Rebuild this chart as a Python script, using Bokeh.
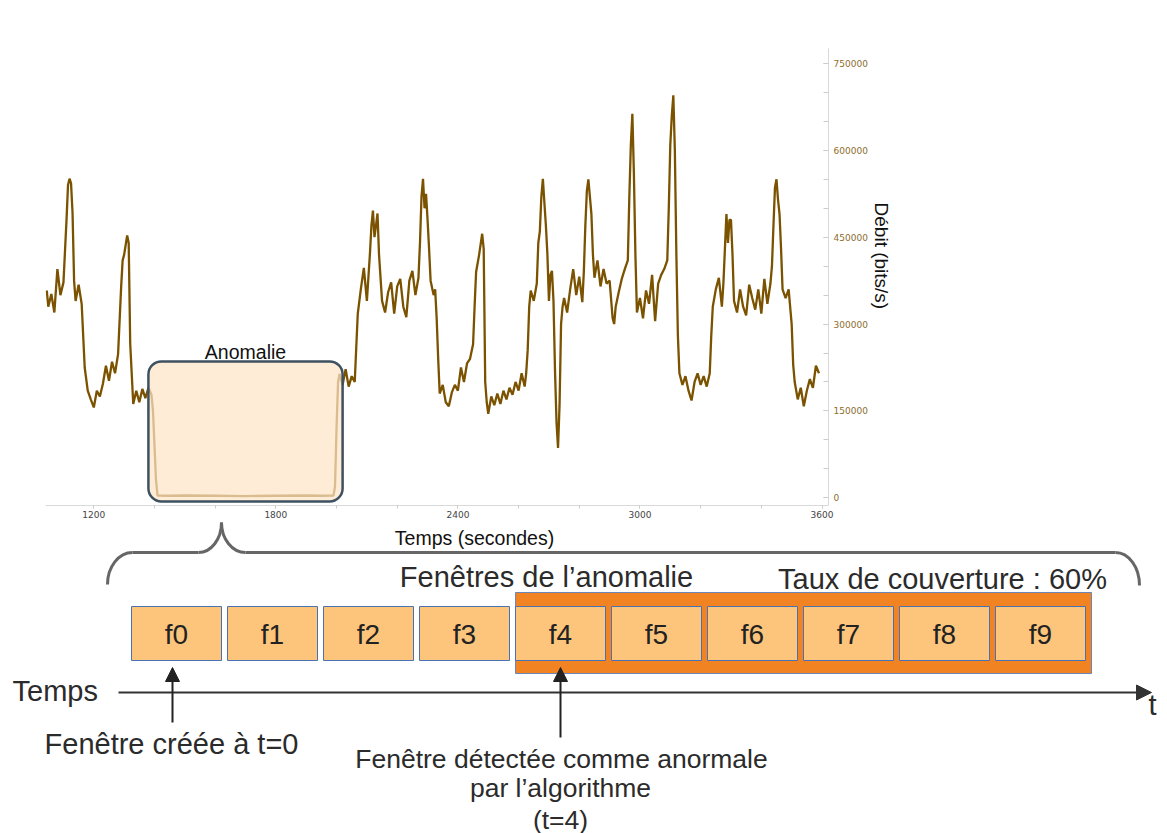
import math
from bokeh.plotting import figure
from bokeh.models import (Range1d, SingleIntervalTicker, BasicTickFormatter,
                          BoxAnnotation, Arrow, NormalHead)
from bokeh.layouts import column
from bokeh.embed import file_html
from bokeh.resources import INLINE
from bokeh.core.properties import value

# ---------------- data ----------------
temps_s = [
    1045, 1050, 1060, 1070, 1080, 1090, 1100, 1110, 1115, 1120,
    1125, 1130, 1135, 1140, 1150, 1160, 1170, 1180, 1190, 1200,
    1210, 1220, 1230, 1240, 1250, 1260, 1270, 1280, 1290, 1295,
    1300, 1310, 1315, 1320, 1330, 1340, 1350, 1360, 1370, 1380,
    1390, 1395, 1400, 1405, 1410, 1450, 1500, 1600, 1700, 1800,
    1900, 1950, 1990, 1995, 2000, 2005, 2010, 2020, 2030, 2040,
    2050, 2060, 2065, 2070, 2080, 2090, 2100, 2110, 2115, 2120,
    2125, 2130, 2135, 2140, 2150, 2160, 2170, 2180, 2190, 2200,
    2210, 2220, 2230, 2240, 2250, 2260, 2270, 2275, 2280, 2285,
    2290, 2295, 2300, 2305, 2310, 2320, 2325, 2330, 2335, 2340,
    2350, 2360, 2370, 2380, 2390, 2400, 2410, 2420, 2430, 2440,
    2450, 2455, 2460, 2470, 2480, 2485, 2490, 2495, 2500, 2510,
    2520, 2530, 2540, 2550, 2560, 2570, 2580, 2590, 2600, 2610,
    2620, 2625, 2630, 2635, 2640, 2650, 2660, 2665, 2670, 2675,
    2680, 2685, 2690, 2695, 2700, 2705, 2710, 2715, 2720, 2725,
    2730, 2735, 2740, 2745, 2750, 2760, 2770, 2780, 2790, 2800,
    2810, 2815, 2820, 2825, 2830, 2835, 2840, 2845, 2850, 2860,
    2870, 2880, 2890, 2900, 2910, 2915, 2920, 2930, 2940, 2950,
    2960, 2965, 2970, 2975, 2980, 2985, 2990, 3000, 3010, 3020,
    3030, 3040, 3050, 3060, 3070, 3080, 3090, 3095, 3100, 3105,
    3110, 3115, 3120, 3125, 3130, 3140, 3150, 3160, 3170, 3180,
    3190, 3200, 3210, 3220, 3230, 3235, 3240, 3250, 3260, 3270,
    3275, 3280, 3285, 3290, 3295, 3300, 3305, 3310, 3320, 3330,
    3340, 3350, 3360, 3370, 3380, 3390, 3400, 3410, 3420, 3430,
    3435, 3440, 3445, 3450, 3455, 3460, 3465, 3470, 3480, 3490,
    3500, 3505, 3510, 3520, 3530, 3540, 3550, 3560, 3570, 3580,
    3590,
]
debit_kbit_s = [
    358, 330, 352, 320, 395, 350, 372, 479, 540, 551,
    543, 491, 375, 340, 368, 335, 225, 185, 170, 156,
    185, 175, 197, 228, 202, 235, 215, 248, 363, 410,
    420, 453, 440, 266, 162, 185, 165, 188, 172, 190,
    178, 150, 90, 30, 4, 3.5, 4, 3.5, 3, 3.5,
    4, 3.5, 4, 20, 120, 200, 214, 195, 222, 192,
    210, 200, 260, 318, 360, 397, 340, 421, 470, 496,
    450, 470, 491, 420, 340, 320, 355, 372, 318, 365,
    378, 330, 312, 375, 392, 350, 380, 440, 520, 551,
    500, 525, 480, 430, 375, 350, 360, 310, 240, 180,
    195, 165, 158, 182, 195, 185, 225, 200, 232, 240,
    265, 330, 390, 420, 456, 430, 200, 165, 145, 175,
    160, 180, 162, 185, 170, 190, 178, 200, 185, 215,
    192, 215, 255, 330, 358, 340, 370, 440, 460, 520,
    551, 510, 470, 420, 340, 385, 392, 340, 220, 130,
    86, 160, 300, 330, 345, 320, 360, 395, 350, 382,
    338, 390, 470, 530, 550, 520, 490, 420, 380, 410,
    365, 395, 370, 375, 310, 300, 330, 355, 378, 395,
    410, 520, 610, 663, 560, 420, 320, 345, 310, 358,
    335, 385, 305, 370, 385, 395, 410, 500, 610, 660,
    695, 600, 420, 280, 215, 195, 210, 185, 168, 200,
    215, 195, 210, 192, 215, 280, 330, 360, 380, 330,
    370, 430, 490, 440, 480, 480, 420, 340, 320, 360,
    330, 315, 368, 345, 325, 360, 318, 378, 335, 370,
    400, 470, 536, 550, 515, 490, 430, 360, 345, 360,
    300, 230, 200, 170, 190, 158, 185, 205, 190, 228,
    215,
]
debit = [v * 1000 for v in debit_kbit_s]

x_tick_interval = 600          # 1200, 1800, 2400, 3000, 3600
y_tick_interval = 150000       # 0 ... 750000

anomalie_debut, anomalie_fin = 1380, 2020      # secondes
anomalie_haut, anomalie_bas = 235500, -6400    # bits/s

fenetres = ["f0", "f1", "f2", "f3", "f4", "f5", "f6", "f7", "f8", "f9"]
fenetre_detectee = 4
taux_couverture = 60

FONT = "Liberation Sans"
TXT = "#2b2b2b"

# ---------------- top chart ----------------
p = figure(width=1167, height=521,
           x_range=Range1d(1040.8, 3621.4), y_range=Range1d(-13300, 775900),
           y_axis_location="right", output_backend="svg", toolbar_location=None,
           min_border_left=45, min_border_right=339, min_border_top=48,
           min_border_bottom=16)
p.frame_align = False
p.outline_line_color = None
p.grid.visible = False

p.line(temps_s, debit, line_color="#7a5200", line_width=2.3)

xa = p.xaxis[0]
xa.ticker = SingleIntervalTicker(interval=x_tick_interval, num_minor_ticks=3)
xa.axis_line_color = "#d9d9d9"
xa.major_tick_line_color = "#cccccc"
xa.minor_tick_line_color = "#cccccc"
xa.major_tick_in = 0
xa.major_tick_out = 3
xa.minor_tick_in = 0
xa.minor_tick_out = 3
xa.major_label_text_font = "DejaVu Sans"
xa.major_label_text_font_size = "9px"
xa.major_label_text_color = "#444444"
xa.major_label_standoff = 2

ya = p.yaxis[0]
ya.ticker = SingleIntervalTicker(interval=y_tick_interval, num_minor_ticks=3)
ya.formatter = BasicTickFormatter(use_scientific=False)
ya.axis_line_color = "#d9d9d9"
ya.major_tick_line_color = "#cccccc"
ya.minor_tick_line_color = "#cccccc"
ya.major_tick_in = 5
ya.major_tick_out = 0
ya.minor_tick_in = 5
ya.minor_tick_out = 0
ya.major_label_text_font = "DejaVu Sans"
ya.major_label_text_font_size = "9px"
ya.major_label_text_color = "#8c6d2d"
ya.major_label_standoff = 5
# axis title; trailing no-break spaces move it up along the axis as in the original
ya.axis_label = "Débit (bits/s)" + "\u00a0" * 8
ya.axis_label_text_font = FONT
ya.axis_label_text_font_size = "19px"
ya.axis_label_text_font_style = "normal"
ya.axis_label_text_color = "#111111"
ya.axis_label_standoff = 0

p.add_layout(BoxAnnotation(left=anomalie_debut, right=anomalie_fin,
                           bottom=anomalie_bas, top=anomalie_haut,
                           fill_color="#fde5c6", fill_alpha=0.72,
                           line_color="#3d5161", line_alpha=1, line_width=2.5,
                           border_radius=13))
p.text(x=[(anomalie_debut + anomalie_fin) / 2], y=[anomalie_haut + 17000],
       text=["Anomalie"], text_align="center", text_baseline="middle",
       text_font=value(FONT), text_font_size="19.5px", text_color="#111111")

# ---------------- bottom diagram (page-pixel coordinates) ----------------
q = figure(width=1167, height=312,
           x_range=Range1d(0, 1167), y_range=Range1d(833, 521),
           x_axis_location=None, y_axis_location=None,
           output_backend="svg", toolbar_location=None, min_border=0)
q.frame_align = False
q.outline_line_color = None
q.grid.visible = False


def txt(xs, ys, texts, size, align="center", color=TXT):
    q.text(x=xs, y=ys, text=texts, text_align=align, text_baseline="middle",
           text_font=value(FONT), text_font_size=size, text_color=color)


txt([474], [537], ["Temps (secondes)"], "19.5px", color="#111111")

# brace
BR = "#666666"
q.bezier(x0=[107, 198, 221, 1115], y0=[584, 552, 522, 552],
         x1=[132, 221, 245, 1139], y1=[552, 522, 552, 585],
         cx0=[107, 210.7, 221, 1128.2], cy0=[566.3, 552, 538.6, 552],
         cx1=[118.2, 221, 231.8, 1139], cy1=[552, 538.6, 552, 566.8],
         line_color=BR, line_width=3)
q.segment(x0=[132, 245], y0=[552, 552], x1=[198, 1115], y1=[552, 552],
          line_color=BR, line_width=3)

# windows
pas, largeur, x_f0 = 96.0, 90.0, 176.0
centres = [x_f0 + i * pas for i in range(len(fenetres))]
yc, h = 633, 54
q.quad(left=[centres[fenetre_detectee] - largeur / 2],
       right=[centres[-1] + largeur / 2 + 6], top=[592], bottom=[673],
       fill_color="#f28322", line_color="#6a86b8", line_width=1)
q.rect(x=centres, y=[yc] * len(centres), width=largeur, height=h,
       fill_color="#fcc57b", line_color="#4a72b0", line_width=1)
txt(centres, [yc + 1] * len(centres), fenetres, "28px", color="#222222")

txt([546], [576], ["Fenêtres de l’anomalie"], "29px")
txt([942], [578], [f"Taux de couverture : {taux_couverture}%"], "29px")

# time axis
q.add_layout(Arrow(x_start=118, y_start=692, x_end=1151, y_end=692,
                   line_color="#333333", line_width=2,
                   end=NormalHead(size=15, fill_color="#333333",
                                  line_color="#333333")))
txt([12], [690], ["Temps"], "29px", align="left")
txt([1152], [704], ["t"], "29px")

# pointer arrows
for xc, y0 in [(centres[0] - 4, 722), (centres[fenetre_detectee], 737)]:
    q.add_layout(Arrow(x_start=xc, y_start=y0, x_end=xc, y_end=667,
                       line_color="#222222", line_width=2,
                       end=NormalHead(size=14, fill_color="#222222",
                                      line_color="#222222")))

txt([171], [743], ["Fenêtre créée à t=0"], "29px")
txt([561, 560, 560], [758, 787, 819],
    ["Fenêtre détectée comme anormale", "par l’algorithme",
     f"(t={fenetre_detectee})"], "26.5px")

layout = column(p, q, spacing=0)
open("out.html", "w").write(file_html(layout, INLINE))
